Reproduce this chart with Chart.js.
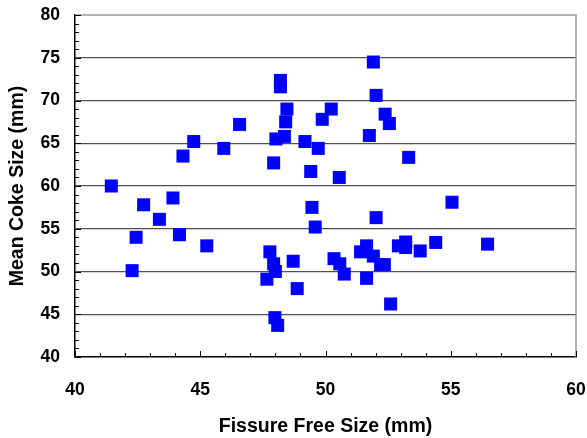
<!DOCTYPE html>
<html>
<head>
<meta charset="utf-8">
<script src="https://cdn.jsdelivr.net/npm/chart.js@4/dist/chart.umd.min.js"></script>
<style>
html,body{margin:0;padding:0;background:#fff;}
#wrap{width:587px;height:438px;}
</style>
</head>
<body>
<div id="wrap"><canvas id="c" width="587" height="438"></canvas></div>
<script>
const fissureFree = [41.45,42.28,42.44,42.74,43.37,43.91,44.17,44.31,44.74,45.26,45.94,46.57,47.66,47.78,47.93,48.00,47.93,47.98,48.09,48.02,48.20,48.20,48.36,48.41,48.46,48.71,48.87,49.18,49.41,49.46,49.59,49.71,49.87,50.23,50.34,50.55,50.57,50.75,51.40,51.64,51.64,51.75,51.91,51.91,52.02,52.02,52.20,52.35,52.38,52.55,52.60,52.91,53.20,53.20,53.32,53.78,54.40,55.05,56.47];
const meanCoke = [60.0,50.1,54.0,57.8,56.1,58.6,54.3,63.5,65.2,53.0,64.4,67.2,49.1,52.3,50.9,50.0,62.7,44.6,43.7,65.5,72.35,71.6,65.8,67.5,69.0,51.2,48.0,65.2,61.7,57.5,55.2,64.4,67.8,69.0,51.5,61.0,50.9,49.7,52.3,53.0,49.2,65.9,74.5,51.8,70.6,56.3,50.8,50.8,68.4,67.3,46.2,53.0,53.45,52.8,63.35,52.4,53.4,58.1,53.2];
const xTicks = [40,45,50,55,60];
const yTicks = [40,45,50,55,60,65,70,75,80];
const xTitle = 'Fissure Free Size (mm)';
const yTitle = 'Mean Coke Size (mm)';

const points = fissureFree.map((x,i)=>({x:x,y:meanCoke[i]}));
const FONT = "'Liberation Sans', Arial, sans-serif";

const frame = {
  id:'frame',
  afterDatasetsDraw(chart){
    const {ctx, chartArea:a, scales:{x,y}} = chart;
    ctx.save();
    ctx.strokeStyle = '#9a9a9a';
    ctx.lineWidth = 1.5;
    ctx.beginPath();
    ctx.moveTo(a.left, a.top); ctx.lineTo(a.right, a.top); ctx.lineTo(a.right, a.bottom);
    ctx.stroke();
    ctx.strokeStyle = '#000';
    ctx.lineWidth = 1;
    ctx.beginPath();
    for (let v = x.min; v <= x.max; v += 1) {
      const px = Math.round(x.getPixelForValue(v)) + 0.5;
      const len = (v % 5 === 0) ? 6 : 4;
      ctx.moveTo(px, a.bottom); ctx.lineTo(px, a.bottom - len);
    }
    for (let v = y.min; v <= y.max; v += 1) {
      const py = Math.round(y.getPixelForValue(v)) + 0.5;
      const len = (v % 5 === 0) ? 6 : 4;
      ctx.moveTo(a.left, py); ctx.lineTo(a.left + len, py);
    }
    ctx.stroke();
    ctx.restore();
  }
};

new Chart(document.getElementById('c'), {
  type:'scatter',
  data:{datasets:[{
    data:points,
    pointStyle:'rect',
    pointRadius:9.2,
    pointHoverRadius:9.2,
    backgroundColor:'#0000ff',
    borderColor:'#0000ff',
    borderWidth:0
  }]},
  plugins:[frame],
  options:{
    responsive:false,
    animation:false,
    events:[],
    layout:{padding:{left:0,right:11,top:15,bottom:0}},
    plugins:{legend:{display:false},tooltip:{enabled:false}},
    scales:{
      x:{
        type:'linear', min:40, max:60,
        afterBuildTicks(s){ s.ticks = xTicks.map(v=>({value:v})); },
        afterFit(s){ s.height = 81; s.paddingLeft = 0; s.paddingRight = 0; },
        grid:{display:false, drawTicks:false},
        border:{display:true,color:'#000',width:1.5},
        ticks:{padding:23,color:'#000',font:{family:FONT,size:17.5,weight:'bold'}},
        title:{display:true,text:xTitle,color:'#000',font:{family:FONT,size:19.5,weight:'bold'},padding:{top:0,bottom:0}}
      },
      y:{
        type:'linear', min:40, max:80,
        afterBuildTicks(s){ s.ticks = yTicks.map(v=>({value:v})); },
        afterFit(s){ s.width = 75; s.paddingTop = 0; s.paddingBottom = 0; },
        grid:{drawTicks:false, lineWidth:1.3,
          color:(c)=> (c.tick && (c.tick.value===40 || c.tick.value===80)) ? 'rgba(0,0,0,0)' : '#505050'},
        border:{display:true,color:'#000',width:1.5},
        ticks:{padding:15,color:'#000',font:{family:FONT,size:17.5,weight:'bold'}},
        title:{display:true,text:yTitle,color:'#000',font:{family:FONT,size:19.5,weight:'bold'},padding:{top:6,bottom:0}}
      }
    }
  }
});
</script>
</body>
</html>
